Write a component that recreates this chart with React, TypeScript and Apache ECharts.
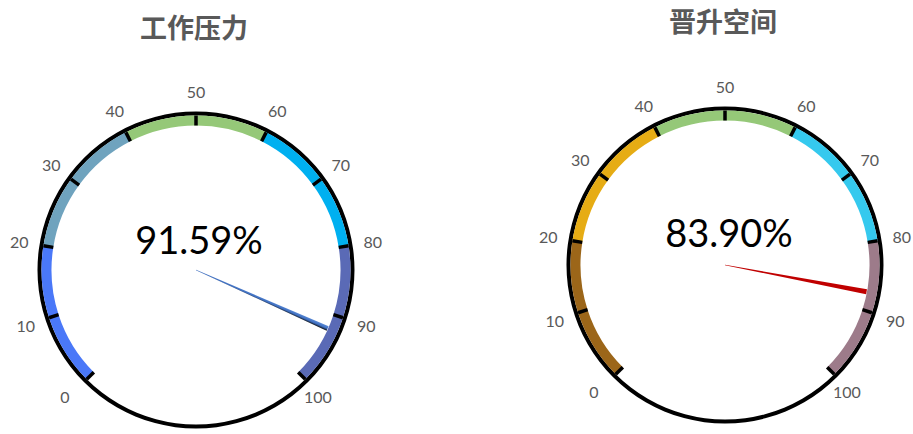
import React, { useEffect, useRef } from 'react';
import * as echarts from 'echarts';

// ---- data ----
const gaugeTitles = ['工作压力', '晋升空间'];
const valueLabels = ['91.59%', '83.90%'];
const pointerValues = [92.2, 87.3];
const tickValues = [0, 10, 20, 30, 40, 50, 60, 70, 80, 90, 100];
const bandStops = [20, 40, 60, 80, 100];
const bandColorsLeft = ['#4A78F8', '#6FA3BE', '#95C878', '#00B0F0', '#5A6AB6'];
const bandColorsRight = ['#9C6619', '#E6AC14', '#95C878', '#35C9EE', '#9D7B8A'];

// ---- layout ----
const centers: [number, number][] = [[196, 270], [725, 265]];
const titlePos = [
  { x: 194, top: 12.5 },
  { x: 723, top: 6.5 },
];
const detailOffsets: [number, number][] = [[3, -31], [4, -33]];
const pointerColors: any[] = [
  {
    type: 'linear', x: 0, y: 0, x2: 1, y2: 0,
    colorStops: [
      { offset: 0, color: '#5B8BD8' },
      { offset: 0.55, color: '#3F6FC0' },
      { offset: 1, color: '#0A0A0A' },
    ],
  },
  '#C00000',
];

const RING_R = 158.5;
const BAND_R = 154.5;
const BAND_W = 10;
const LABEL_R = 179;

function buildSeries(i: number, colors: string[]) {
  const min = tickValues[0];
  const max = tickValues[tickValues.length - 1];
  const stops = bandStops.map((s, k) => [(s - min) / (max - min), colors[k]]);
  const ring = {
    type: 'gauge',
    center: centers[i],
    radius: RING_R,
    startAngle: 90,
    endAngle: -270,
    min: 0,
    max: 1,
    axisLine: { lineStyle: { width: 4, color: [[1, '#000000']] } },
    splitLine: { show: false },
    axisTick: { show: false },
    axisLabel: { show: false },
    pointer: { show: false },
    anchor: { show: false },
    title: { show: false },
    detail: { show: false },
    data: [],
  };
  const band = {
    type: 'gauge',
    center: centers[i],
    radius: BAND_R,
    startAngle: 225,
    endAngle: -45,
    min,
    max,
    splitNumber: tickValues.length - 1,
    axisLine: { lineStyle: { width: BAND_W, color: stops } },
    splitLine: {
      show: true,
      length: BAND_W,
      distance: -BAND_W,
      lineStyle: { color: '#000000', width: 3.5 },
    },
    axisTick: { show: false },
    axisLabel: {
      show: true,
      distance: BAND_R - LABEL_R,
      color: '#595959',
      fontSize: 16,
      fontFamily: 'Lato',
      padding: [-8, -9.3, -8, -9.3],
    },
    pointer: {
      show: true,
      icon: 'path://M0 0L10 0L5.4 100L4.6 100Z',
      length: 144,
      width: 5,
      offsetCenter: [0, 0],
      itemStyle: { color: pointerColors[i] },
    },
    anchor: { show: false },
    title: { show: false },
    detail: {
      show: true,
      offsetCenter: detailOffsets[i],
      fontSize: 38,
      fontWeight: 'normal',
      fontFamily: 'Lato',
      color: '#000000',
      valueAnimation: false,
      formatter: () => valueLabels[i],
    },
    data: [{ value: pointerValues[i] }],
  };
  return [ring, band];
}

export default function App() {
  const ref = useRef<HTMLDivElement>(null);
  useEffect(() => {
    document.body.style.margin = '0';
    if (!ref.current) return;
    const chart = echarts.init(ref.current, undefined, { renderer: 'svg' });
    const option: any = {
      animation: false,
      backgroundColor: '#ffffff',
      title: gaugeTitles.map((t, i) => ({
        text: t,
        left: titlePos[i].x,
        top: titlePos[i].top,
        textAlign: 'center',
        padding: 0,
        textStyle: {
          fontSize: 27,
          fontWeight: 'bold',
          color: '#595959',
          fontFamily: 'Noto Sans CJK SC',
        },
      })),
      series: [
        ...buildSeries(0, bandColorsLeft),
        ...buildSeries(1, bandColorsRight),
      ],
    };
    chart.setOption(option);
    return () => chart.dispose();
  }, []);
  return (
    <div
      ref={ref}
      style={{ position: 'absolute', left: 0, top: 0, width: 913, height: 434 }}
    />
  );
}
